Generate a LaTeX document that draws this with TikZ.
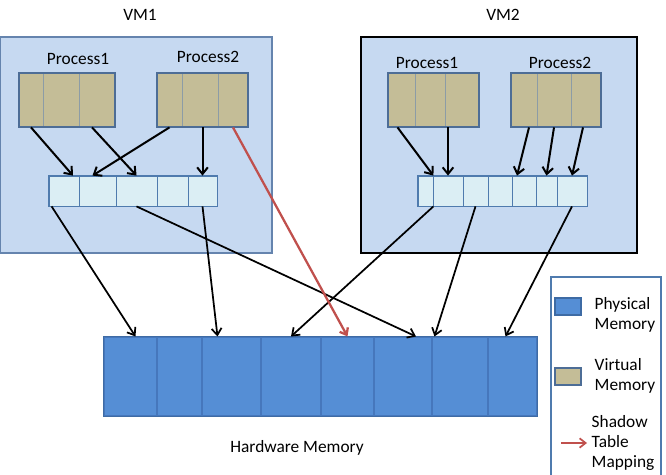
\documentclass[tikz,border=0pt]{standalone}
\usepackage{fontspec}
\setmainfont{Carlito}
\usetikzlibrary{calc,fit,arrows.meta,positioning}
\definecolor{vmfill}{HTML}{C6D9F1}
\definecolor{vmedge}{HTML}{6584AE}
\definecolor{virtfill}{HTML}{C4BD97}
\definecolor{virtedge}{HTML}{4D6D96}
\definecolor{virtdiv}{HTML}{8C9CA6}
\definecolor{tabfill}{HTML}{DBEEF4}
\definecolor{tabedge}{HTML}{4F7BAE}
\definecolor{physfill}{HTML}{558ED5}
\definecolor{physedge}{HTML}{3E6BA4}
\definecolor{physdiv}{HTML}{4677BC}
\definecolor{shadowred}{HTML}{C0504D}

\begin{document}
\begin{tikzpicture}[x=0.75pt, y=-0.75pt, font=\fontsize{13}{15}\selectfont,
  vmbox/.style={fill=vmfill, draw=#1, line width=1.6pt, inner sep=0pt},
  virtcell/.style={fill=virtfill, draw=virtdiv, line width=0.6pt, inner sep=0pt},
  virtframe/.style={draw=virtedge, line width=1.4pt, inner sep=0pt},
  tabcell/.style={fill=tabfill, draw=tabedge, line width=0.6pt, inner sep=0pt},
  tabframe/.style={draw=tabedge, line width=1.3pt, inner sep=0pt},
  physcell/.style={fill=physfill, draw=physdiv, line width=0.8pt, inner sep=0pt},
  physframe/.style={draw=physedge, line width=1.2pt, inner sep=0pt},
  maparrow/.style={-{Straight Barb[length=5pt,width=8pt]}, line width=1.5pt},
  hwarrow/.style={-{Straight Barb[length=5pt,width=7.5pt]}, line width=1.3pt},
  shadowarrow/.style={-{Straight Barb[length=4.5pt,width=7pt]}, shadowred, line width=1.7pt},
  legtext/.style={align=left, anchor=west}]
  \useasboundingbox (0,0) rectangle (666,474);

  % ---------- VM1 ----------
  \node[vmbox=vmedge, fit={(0,37) (272,253)}] (vm1) {};
  \node at (140,15) {VM1};

  % process page tables (virtual memory)
  \foreach \xa/\xb [count=\i] in {19/43,43/79,79/115}
    \node[virtcell, fit={(\xa,73) (\xb,127)}] (p11-\i) {};
  \node[virtframe, fit=(p11-1)(p11-3)] (p11) {};
  \node at (78,59) {Process1};

  \foreach \xa/\xb [count=\i] in {157/182,182/218,218/248}
    \node[virtcell, fit={(\xa,73) (\xb,127)}] (p12-\i) {};
  \node[virtframe, fit=(p12-1)(p12-3)] (p12) {};
  \node at (208,57) {Process2};

  % guest memory table
  \foreach \xa/\xb [count=\i] in {49/79,79/116,116/157,157/188,188/217}
    \node[tabcell, fit={(\xa,176) (\xb,206)}] (t1-\i) {};
  \node[tabframe, fit=(t1-1)(t1-5)] (t1) {};

  % ---------- VM2 ----------
  \node[vmbox=black, fit={(361,37) (637,253)}] (vm2) {};
  \node at (503,15) {VM2};

  \foreach \xa/\xb [count=\i] in {388/415,415/445,445/479}
    \node[virtcell, fit={(\xa,73) (\xb,127)}] (p21-\i) {};
  \node[virtframe, fit=(p21-1)(p21-3)] (p21) {};
  \node at (427,63) {Process1};

  \foreach \xa/\xb [count=\i] in {511/537,537/571,571/601}
    \node[virtcell, fit={(\xa,73) (\xb,127)}] (p22-\i) {};
  \node[virtframe, fit=(p22-1)(p22-3)] (p22) {};
  \node at (560,63) {Process2};

  \foreach \xa/\xb [count=\i] in {418/433,433/463,463/488,488/512,512/536,536/557,557/587}
    \node[tabcell, fit={(\xa,176) (\xb,206)}] (t2-\i) {};
  \node[tabframe, fit=(t2-1)(t2-7)] (t2) {};

  % ---------- Hardware memory ----------
  \foreach \xa/\xb [count=\i] in {104/157,157/202,202/261,261/321,321/374,374/432,432/488,488/537}
    \node[physcell, fit={(\xa,337) (\xb,416)}] (h\i) {};
  \node[physframe, fit=(h1)(h8)] (hw) {};
  \node at (297,448) {Hardware Memory};

  % ---------- process -> guest table ----------
  \draw[maparrow] (p11-1.south) -- ($(t1-1.north)+(9,0)$);
  \draw[maparrow] ($(p11-3.south)+(-5,0)$) -- (t1-3.north);
  \draw[maparrow] (p12-1.south) -- ($(t1-2.north)+(-5,0)$);
  \draw[maparrow] (t1-5.north |- p12-2.south) -- (t1-5.north);

  \draw[maparrow] ($(p21-1.south)+(-4,0)$) -- (t2-1.north east);
  \draw[maparrow] (t2-2.north |- p21-3.south) -- (t2-2.north);
  \draw[maparrow] ($(p22-1.south)+(5,0)$) -- ($(t2-5.north)+(-7,0)$);
  \draw[maparrow] (p22-2.south) -- (t2-6.north);
  \draw[maparrow] ($(p22-3.south)+(-3,0)$) -- (t2-7.north);

  % ---------- guest table -> hardware ----------
  \draw[hwarrow] ($(t1-1.south west)+(3,0)$) -- ($(h1.north)+(5,0)$);
  \draw[hwarrow] (t1-5.south) -- ($(h3.north)+(-14,0)$);
  \draw[hwarrow] (t1-3.south) -- ($(h6.north)+(13,0)$);
  \draw[hwarrow] (t2-1.south east) -- (h4.north);
  \draw[hwarrow] (t2-3.south) -- ($(h7.north west)+(3,0)$);
  \draw[hwarrow] (t2-7.south) -- ($(h8.north)+(-7,0)$);

  % shadow table: process straight to hardware
  \draw[shadowarrow] (p12-3.south) -- (h5.north);

  % ---------- Legend ----------
  \draw[draw=tabedge, line width=1.2pt] (551,480) |- (661,277) -- (661,480);
  \node[physcell, draw=physedge, line width=1.3pt, fit={(555,298) (581,315)}] (swphys) {};
  \node[legtext] (txphys) at (590,315) {Physical\\Memory};
  \node[virtcell, draw=virtedge, line width=1.3pt, fit={(555,368) (581,385)}] (swvirt) {};
  \node[legtext] (txvirt) at (590,375.5) {Virtual\\Memory};
  \coordinate (legarrow) at (561,443);
  \node[legtext] (txshadow) at (587,443) {Shadow\\Table\\Mapping};
  \draw[shadowarrow, line width=1.3pt] (legarrow) -- (txshadow.west);
\end{tikzpicture}
\end{document}
